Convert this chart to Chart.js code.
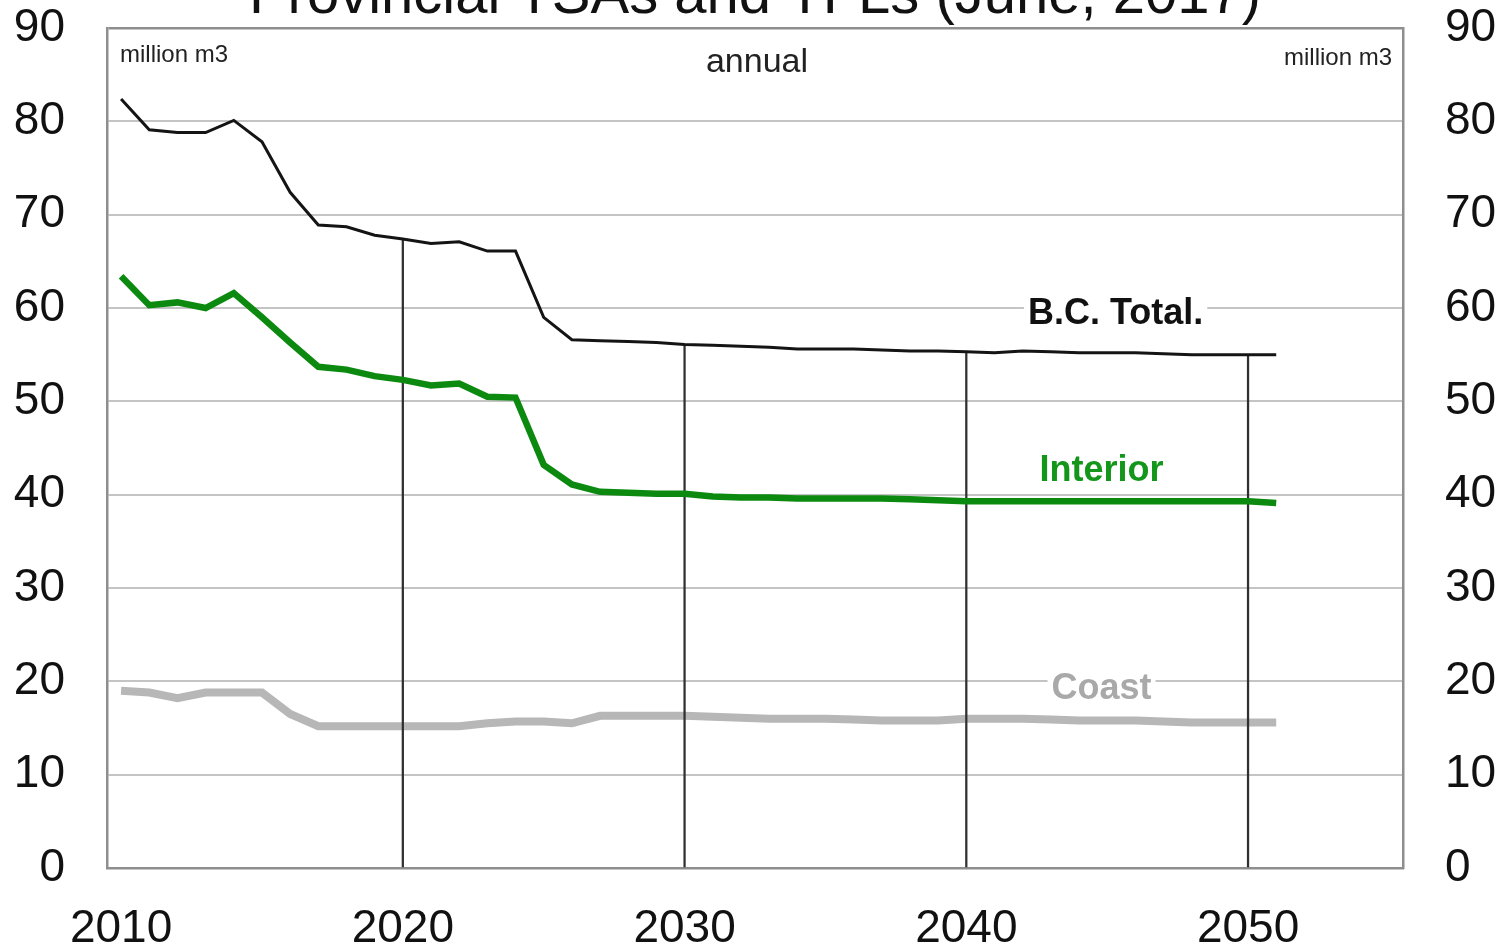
<!DOCTYPE html>
<html>
<head>
<meta charset="utf-8">
<script src="https://cdn.jsdelivr.net/npm/chart.js@4.4.1/dist/chart.umd.min.js"></script>
<style>
  html, body { margin: 0; padding: 0; background: #ffffff; overflow: hidden; }
  #wrap { position: relative; width: 1508px; height: 947px; }
</style>
</head>
<body>
<div id="wrap"><canvas id="c"></canvas></div>
<script>
// ---- data ----
const titleText = "Provincial TSAs and TFLs (June, 2017)";
const years = [2010,2011,2012,2013,2014,2015,2016,2017,2018,2019,
               2020,2021,2022,2023,2024,2025,2026,2027,2028,2029,
               2030,2031,2032,2033,2034,2035,2036,2037,2038,2039,
               2040,2041,2042,2043,2044,2045,2046,2047,2048,2049,
               2050,2051];
const bcTotal = [82.4,79.1,78.8,78.8,80.1,77.8,72.4,68.9,68.7,67.8,
                 67.4,66.9,67.1,66.1,66.1,59.0,56.6,56.5,56.4,56.3,
                 56.1,56.0,55.9,55.8,55.6,55.6,55.6,55.5,55.4,55.4,
                 55.3,55.2,55.4,55.3,55.2,55.2,55.2,55.1,55.0,55.0,
                 55.0,55.0];
const interior = [63.4,60.3,60.6,60.0,61.6,59.0,56.3,53.7,53.4,52.7,
                  52.3,51.7,51.9,50.5,50.4,43.2,41.1,40.3,40.2,40.1,
                  40.1,39.8,39.7,39.7,39.6,39.6,39.6,39.6,39.5,39.4,
                  39.3,39.3,39.3,39.3,39.3,39.3,39.3,39.3,39.3,39.3,
                  39.3,39.1];
const coast = [19.0,18.8,18.2,18.8,18.8,18.8,16.5,15.2,15.2,15.2,
               15.2,15.2,15.2,15.5,15.7,15.7,15.5,16.3,16.3,16.3,
               16.3,16.2,16.1,16.0,16.0,16.0,15.9,15.8,15.8,15.8,
               16.0,16.0,16.0,15.9,15.8,15.8,15.8,15.7,15.6,15.6,
               15.6,15.6];
const dropYears = [2020, 2030, 2040, 2050];
const xTicks = [2010, 2020, 2030, 2040, 2050];
const yTicks = [0, 10, 20, 30, 40, 50, 60, 70, 80, 90];
const seriesNames = ["B.C. Total.", "Interior", "Coast"];
const unitText = "million m3";
const periodText = "annual";

// ---- build library structures ----
const toXY = (vals) => years.map((yr, i) => ({ x: yr, y: vals[i] }));
const dropData = dropYears.map(yr => ({ x: yr, y: bcTotal[years.indexOf(yr)] }));

const FONT = "'Liberation Sans', Arial, Helvetica, sans-serif";
const BORDER = '#8e8e8e';

const overlay = {
  id: 'overlay',
  afterDatasetsDraw(chart) {
    const { ctx, chartArea: a, scales } = chart;
    const xs = scales.x, ys = scales.y;
    ctx.save();
    // title (partly cut by the top edge, as in the reference)
    ctx.fillStyle = '#111';
    ctx.font = "58px " + FONT;
    ctx.textAlign = 'center';
    ctx.textBaseline = 'alphabetic';
    ctx.fillText(titleText, (a.left + a.right) / 2, 13);

    // unit labels
    ctx.font = "24px " + FONT;
    ctx.fillStyle = '#222';
    ctx.textBaseline = 'middle';
    ctx.textAlign = 'left';
    ctx.fillText(unitText, a.left + 13, a.top + 27);
    ctx.textAlign = 'right';
    ctx.fillText(unitText, a.right - 11, a.top + 30);
    ctx.font = "34px " + FONT;
    ctx.textAlign = 'center';
    ctx.fillText(periodText, (a.left + a.right) / 2 + 2, a.top + 35);

    // series labels with white background
    const labels = [
      { t: seriesNames[0], x: 2045.3, y: 59.3, c: '#111111' },
      { t: seriesNames[1], x: 2044.8, y: 42.5, c: '#13961a' },
      { t: seriesNames[2], x: 2044.8, y: 19.2, c: '#a9a9a9' }
    ];
    ctx.font = "bold 36px " + FONT;
    labels.forEach(l => {
      const px = xs.getPixelForValue(l.x), py = ys.getPixelForValue(l.y);
      const w = ctx.measureText(l.t).width;
      ctx.fillStyle = '#ffffff';
      ctx.fillRect(px - w / 2 - 4, py - 16, w + 8, 32);
      ctx.fillStyle = l.c;
      ctx.fillText(l.t, px, py);
    });
    ctx.restore();
  }
};

const yAfterFit = (s) => { s.width = 93; s.paddingTop = 0; s.paddingBottom = 0; };

new Chart(document.getElementById('c'), {
  type: 'line',
  data: {
    datasets: [
      { label: seriesNames[0], data: toXY(bcTotal), borderColor: '#141414', borderWidth: 3,
        pointRadius: 0, tension: 0, fill: false },
      { label: seriesNames[1], data: toXY(interior), borderColor: '#0c8a10', borderWidth: 6.5,
        pointRadius: 0, tension: 0, fill: false },
      { type: 'bar', label: 'drop', data: dropData, backgroundColor: '#303030',
        barThickness: 1.6, borderWidth: 0 },
      { label: seriesNames[2], data: toXY(coast), borderColor: '#b7b7b7', borderWidth: 8,
        pointRadius: 0, tension: 0, fill: false }
    ]
  },
  options: {
    responsive: true,
    maintainAspectRatio: false,
    animation: false,
    layout: { padding: { top: 28, left: 14, right: 12, bottom: 0 } },
    plugins: { legend: { display: false }, tooltip: { enabled: false }, title: { display: false } },
    scales: {
      x: {
        type: 'linear', min: 2009.5, max: 2055.5, offset: false,
        afterBuildTicks: (s) => { s.ticks = xTicks.map(v => ({ value: v })); },
        afterFit: (s) => { s.height = 79; s.paddingLeft = 0; s.paddingRight = 0; },
        grid: { display: false, drawTicks: false },
        border: { display: true, color: BORDER, width: 2.5 },
        ticks: { color: '#111', font: { family: FONT, size: 46, lineHeight: 0.9 }, padding: 41,
                 maxRotation: 0, autoSkip: false, callback: (v) => String(v) }
      },
      y: {
        position: 'left', min: 0, max: 90,
        afterBuildTicks: (s) => { s.ticks = yTicks.map(v => ({ value: v })); },
        afterFit: yAfterFit,
        grid: {
          drawTicks: false,
          color: (c) => (c.tick && (c.tick.value === 90 || c.tick.value === 0)) ? BORDER : '#c4c4c4',
          lineWidth: (c) => (c.tick && (c.tick.value === 90)) ? 2.5 : 2
        },
        border: { display: true, color: BORDER, width: 2.5 },
        ticks: { color: '#111', font: { family: FONT, size: 46 }, padding: 42, callback: (v) => String(v) }
      },
      y2: {
        position: 'right', min: 0, max: 90,
        afterBuildTicks: (s) => { s.ticks = yTicks.map(v => ({ value: v })); },
        afterFit: yAfterFit,
        grid: { drawOnChartArea: false, drawTicks: false },
        border: { display: true, color: BORDER, width: 2.5 },
        ticks: { color: '#111', font: { family: FONT, size: 46 }, padding: 42, callback: (v) => String(v) }
      }
    }
  },
  plugins: [overlay]
});
</script>
</body>
</html>
